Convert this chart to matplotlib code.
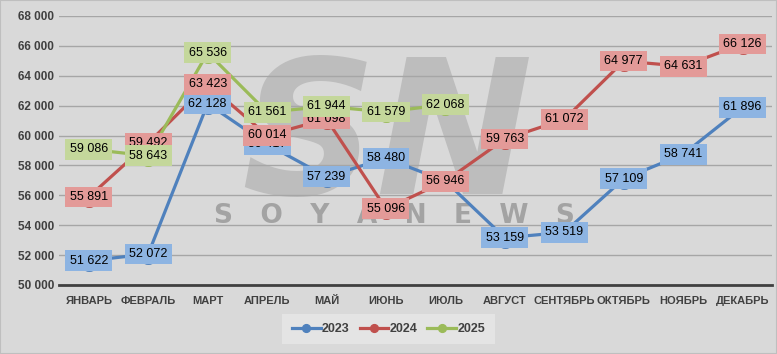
import matplotlib

matplotlib.use("Agg")
import matplotlib.pyplot as plt
from matplotlib.ticker import FuncFormatter

plt.rcParams.update({"font.family": ["Liberation Sans", "DejaVu Sans"], "font.size": 9})

months = ["ЯНВАРЬ", "ФЕВРАЛЬ", "МАРТ", "АПРЕЛЬ", "МАЙ", "ИЮНЬ", "ИЮЛЬ",
          "АВГУСТ", "СЕНТЯБРЬ", "ОКТЯБРЬ", "НОЯБРЬ", "ДЕКАБРЬ"]
y2023 = [51622, 52072, 62128, 59417, 57239, 58480, 56946, 53159, 53519, 57109, 58741, 61896]
y2024 = [55891, 59492, 63423, 60014, 61098, 55096, 56946, 59763, 61072, 64977, 64631, 66126]
y2025 = [59086, 58643, 65536, 61561, 61944, 61579, 62068]

series = [
    ("2023", y2023, "#4f81bd", "#8db4e2"),
    ("2024", y2024, "#c0504d", "#e39a98"),
    ("2025", y2025, "#9bbb59", "#c4d79b"),
]

bg = "#d9d9d9"
fig = plt.figure(figsize=(7.77, 3.54), dpi=100, facecolor=bg)
ax = fig.add_axes([0.076, 0.195, 0.918, 0.76])
ax.set_facecolor(bg)

# watermark, behind the lines
ax.text(0.46, 0.53, "SN", transform=ax.transAxes, fontsize=135, style="italic",
        fontweight="bold", family="DejaVu Sans", color="#a6a6a6", alpha=0.55,
        ha="center", va="center", zorder=1)
ax.text(0.47, 0.255, "S   O   Y   A   N   E   W   S", transform=ax.transAxes,
        fontsize=19, fontweight="bold", family="DejaVu Sans", color="#8c8c8c",
        alpha=0.7, ha="center", va="center", zorder=1)

for k, (name, vals, col, light) in enumerate(series):
    x = list(range(len(vals)))
    ax.plot(x, vals, color=col, lw=2.3, marker="o", ms=14, mfc=col, mec=col,
            label=name, zorder=3 + k)
    for xi, v in zip(x, vals):
        ax.text(xi, v, f"{v:,}".replace(",", " "), ha="center", va="center",
                fontsize=9, color="black", zorder=10 + k,
                bbox=dict(boxstyle="square,pad=0.35", fc=light, ec="none"))

ax.set_xlim(-0.5, 11.5)
ax.set_ylim(50000, 68000)
ax.set_yticks(range(50000, 68001, 2000))
ax.yaxis.set_major_formatter(FuncFormatter(lambda v, p: f"{int(v):,}".replace(",", " ")))
ax.set_xticks(range(12))
ax.set_xticklabels(months, fontweight="bold")
for lbl in ax.get_yticklabels():
    lbl.set_fontweight("bold")
ax.tick_params(length=0, colors="#404040", labelsize=8.5)
ax.tick_params(axis="x", pad=8, labelsize=8)
ax.grid(axis="y", color="#a6a6a6", lw=1)
ax.set_axisbelow(True)
for s in ["top", "right", "left"]:
    ax.spines[s].set_visible(False)
ax.spines["bottom"].set_color("#404040")
ax.spines["bottom"].set_linewidth(2)

leg = fig.legend(loc="lower center", bbox_to_anchor=(0.5, 0.02), ncol=3, frameon=True,
                 fontsize=9, handlelength=2.3, markerscale=0.4, columnspacing=0.8,
                 handletextpad=0.1, borderpad=0.45)
leg.get_frame().set_facecolor("#e7e7e7")
leg.get_frame().set_edgecolor("none")
leg.get_frame().set_boxstyle("square")
for t in leg.get_texts():
    t.set_fontweight("bold")
    t.set_color("#404040")

fig.patches.append(plt.Rectangle((0, 0), 1, 1, transform=fig.transFigure, fill=False,
                                 ec="#bfbfbf", lw=1.5))
fig.savefig("out.png", facecolor=bg)
